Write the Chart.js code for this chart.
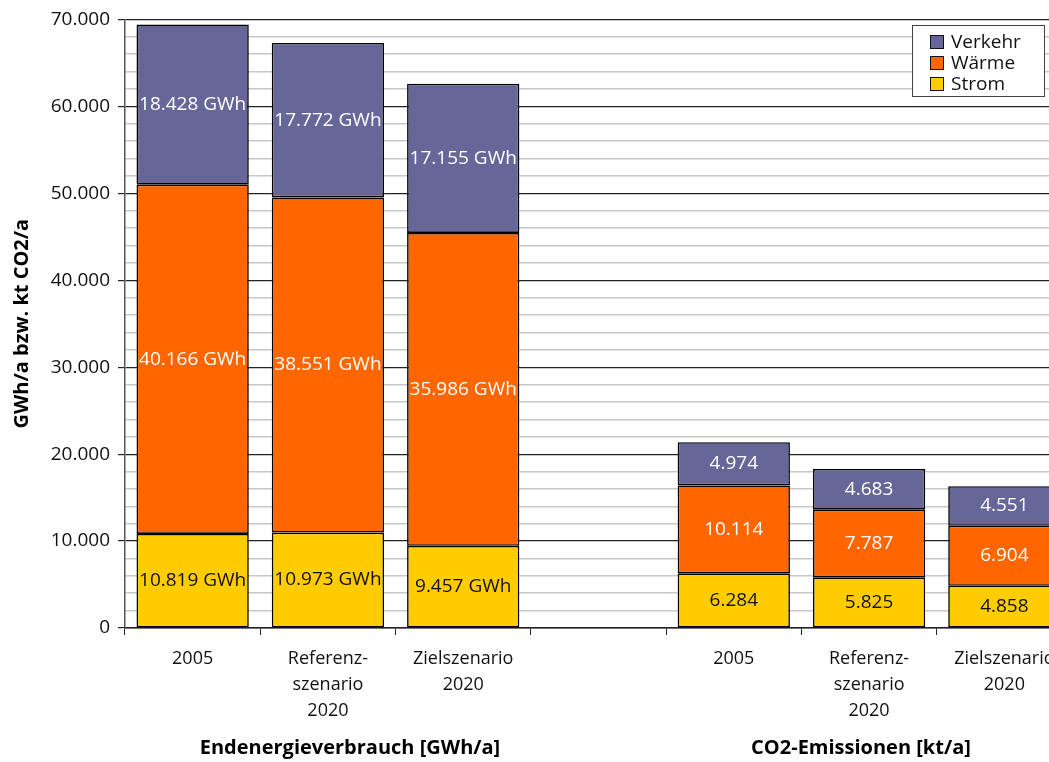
<!DOCTYPE html>
<html>
<head>
<meta charset="utf-8">
<script src="https://cdn.jsdelivr.net/npm/chart.js@4"></script>
<style>
  html, body { margin: 0; padding: 0; background: #fff; overflow: hidden; }
  #wrap { position: relative; width: 1080px; height: 762px; }
</style>
</head>
<body>
<div id="wrap"><canvas id="chart"></canvas></div>
<script>
// categories (empty slot separates energy and CO2 groups)
var categories = ['2005', ['Referenz-', 'szenario', '2020'], ['Zielszenario', '2020'], '',
                  '2005', ['Referenz-', 'szenario', '2020'], ['Zielszenario', '2020']];
var strom   = [10819, 10973, 9457, null, 6284, 5825, 4858];
var waerme  = [40166, 38551, 35986, null, 10114, 7787, 6904];
var verkehr = [18428, 17772, 17155, null, 4974, 4683, 4551];
var units   = [' GWh', ' GWh', ' GWh', '', '', '', ''];
var groupTitles = ['Endenergieverbrauch [GWh/a]', 'CO2-Emissionen [kt/a]'];
var yTitle = 'GWh/a bzw. kt CO2/a';

var FONT = "'Open Sans', 'DejaVu Sans', sans-serif";

function fmt(v) {
    return String(v).replace(/\B(?=(\d{3})+(?!\d))/g, '.');
}

var segLabels = {
    id: 'segLabels',
    afterDatasetsDraw: function (chart) {
        var ctx = chart.ctx;
        ctx.save();
        ctx.font = '19px ' + FONT;
        ctx.textAlign = 'center';
        ctx.textBaseline = 'middle';
        chart.data.datasets.forEach(function (ds, i) {
            var meta = chart.getDatasetMeta(i);
            meta.data.forEach(function (el, j) {
                var v = ds.data[j];
                if (v == null) return;
                ctx.fillStyle = ds.labelColor;
                ctx.fillText(fmt(v) + units[j], el.x, (el.y + el.base) / 2);
            });
        });
        ctx.restore();
    }
};

var boxLegend = {
    id: 'boxLegend',
    afterDraw: function (chart) {
        var ctx = chart.ctx;
        ctx.save();
        ctx.fillStyle = '#fff';
        ctx.fillRect(912, 25, 132, 71);
        ctx.strokeStyle = '#444';
        ctx.lineWidth = 1;
        ctx.strokeRect(912.5, 25.5, 132, 71);
        ctx.font = '19px ' + FONT;
        ctx.textBaseline = 'middle';
        var ds = chart.data.datasets.slice().reverse();
        ds.forEach(function (d, i) {
            var y = 42 + i * 21;
            ctx.fillStyle = d.backgroundColor;
            ctx.fillRect(930, y - 7, 14, 14);
            ctx.strokeStyle = '#111';
            ctx.strokeRect(930.5, y - 6.5, 13, 13);
            ctx.fillStyle = '#111';
            ctx.fillText(d.label, 951, y + 1);
        });
        // group titles under the x axis
        ctx.font = 'bold 20px ' + FONT;
        ctx.textAlign = 'center';
        ctx.fillStyle = '#000';
        ctx.fillText(groupTitles[0], 350, 748);
        ctx.fillText(groupTitles[1], 861, 748);
        ctx.restore();
    }
};

var chart = new Chart(document.getElementById('chart'), {
    type: 'bar',
    data: {
        labels: categories,
        datasets: [
            { label: 'Strom', data: strom, backgroundColor: '#FFCC00', labelColor: '#111' },
            { label: 'Wärme', data: waerme, backgroundColor: '#FF6600', labelColor: '#fff' },
            { label: 'Verkehr', data: verkehr, backgroundColor: '#666699', labelColor: '#fff' }
        ].map(function (d) {
            d.borderColor = '#000';
            d.borderWidth = 1.6;
            d.borderSkipped = false;
            d.categoryPercentage = 1;
            d.barPercentage = 0.83;
            return d;
        })
    },
    options: {
        responsive: true,
        maintainAspectRatio: false,
        animation: false,
        devicePixelRatio: 1,
        layout: { padding: { top: 18, right: 8, left: 0, bottom: 0 } },
        plugins: {
            legend: { display: false },
            tooltip: { enabled: false }
        },
        scales: {
            x: {
                stacked: true,
                afterFit: function (s) { s.height = 134; },
                border: { display: true, color: '#222', width: 1.5 },
                grid: { drawOnChartArea: false, drawTicks: true, tickLength: 7, color: '#222' },
                ticks: {
                    color: '#111', padding: 11, maxRotation: 0, autoSkip: false,
                    font: { family: FONT, size: 18, lineHeight: 1.45 }
                }
            },
            y: {
                stacked: true,
                min: 0, max: 70000,
                afterFit: function (s) { s.width = 125; },
                border: { display: true, color: '#555', width: 1.5 },
                grid: {
                    color: function (c) { return c.tick.value % 10000 === 0 ? '#222' : '#c8c8c8'; },
                    lineWidth: function (c) { return c.tick.value % 10000 === 0 ? 1.2 : 1.5; },
                    tickColor: function (c) { return c.tick.value % 10000 === 0 ? '#222' : 'rgba(0,0,0,0)'; },
                    tickLength: 7
                },
                ticks: {
                    stepSize: 2000, autoSkip: false, padding: 8, color: '#111',
                    font: { family: FONT, size: 19 },
                    callback: function (v) { return v % 10000 === 0 ? fmt(v) : ''; }
                },
                title: {
                    display: true, text: yTitle, color: '#000',
                    font: { family: FONT, size: 20, weight: 'bold' },
                    padding: { top: 10, bottom: 0 }
                }
            }
        }
    },
    plugins: [segLabels, boxLegend]
});
</script>
</body>
</html>
